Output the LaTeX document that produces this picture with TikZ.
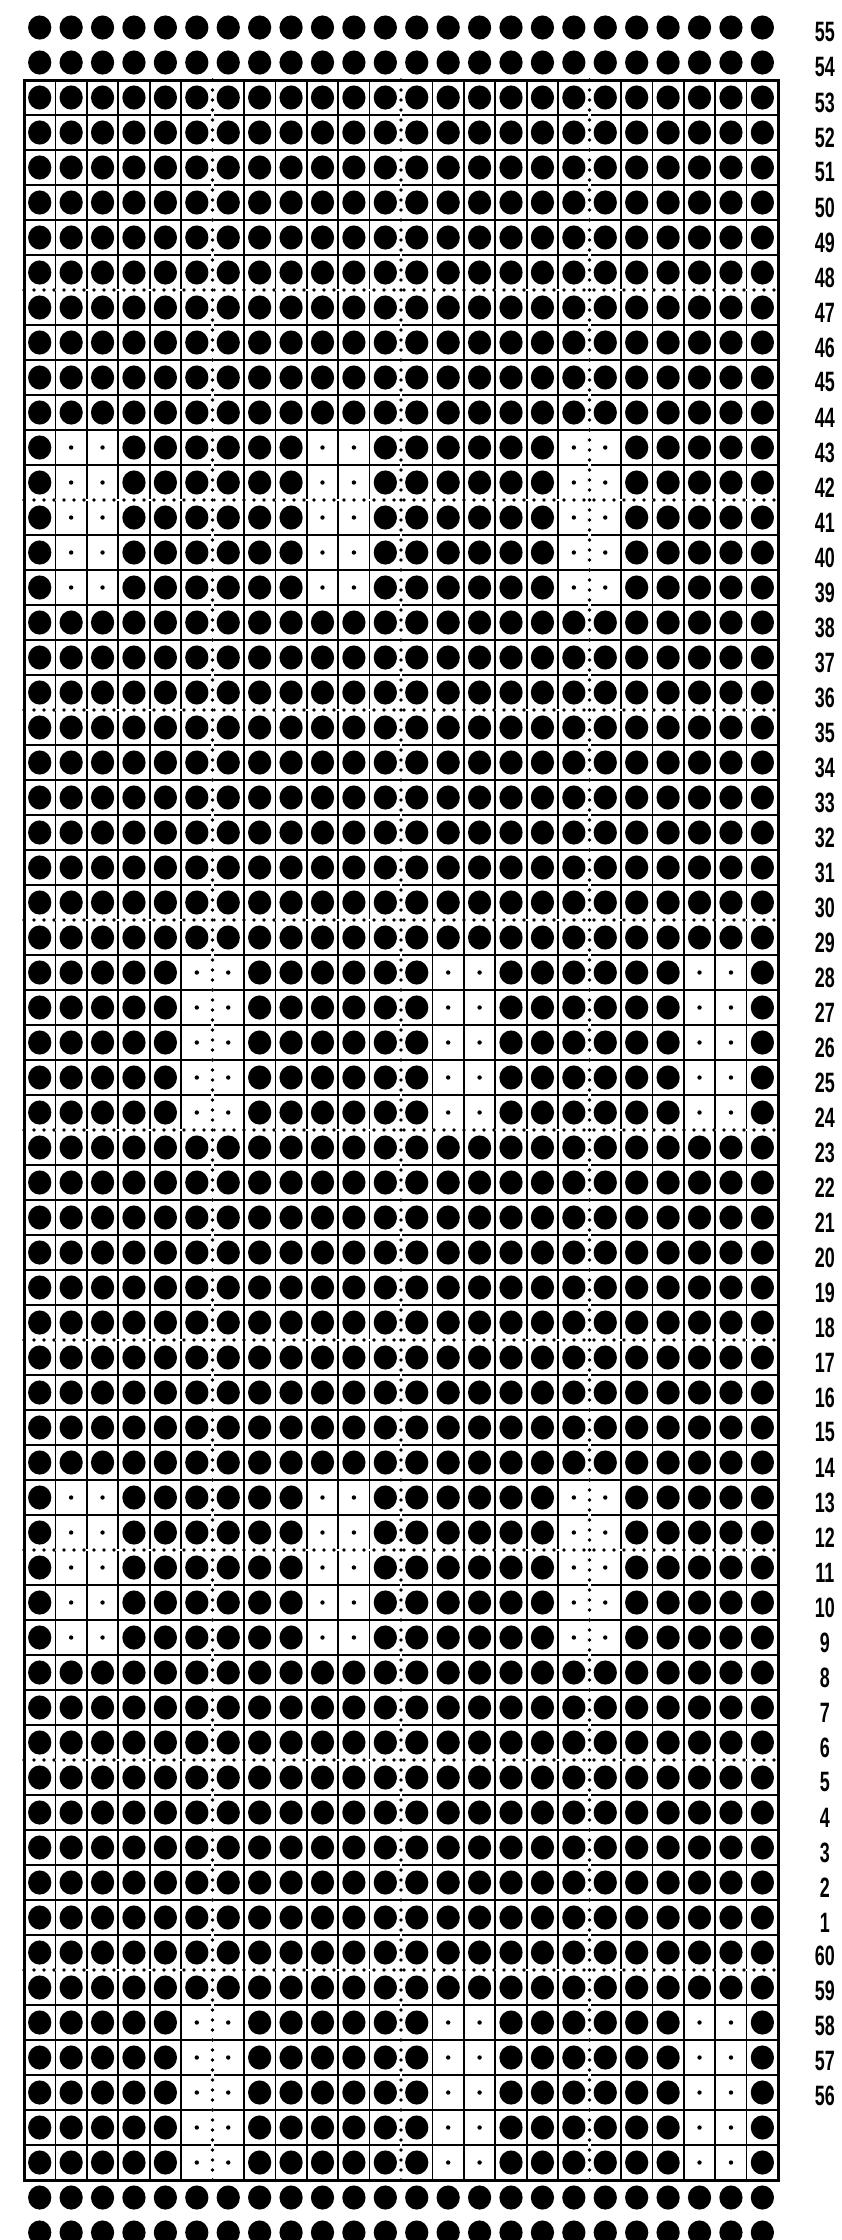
\documentclass[tikz,border=0pt]{standalone}
\usepackage{fontspec}
\newfontfamily\rownumfont{Liberation Sans Bold}[FakeStretch=0.64]
\tikzset{
  hole/.style={fill=black},
  cellline/.style={line width=0.5pt},
  frameline/.style={line width=0.9pt},
  sixline/.style={line width=1.1pt, line cap=round, dash pattern=on 0pt off 3pt},
  rownum/.style={font=\rownumfont\fontsize{8.4}{9}\selectfont, inner sep=0pt}
}

\begin{document}
\begin{tikzpicture}[x=0.3pt, y=-0.3pt]
            \useasboundingbox (0,0) rectangle (842,2240);
            \begin{scope}[shift={(24,80)}, xscale=31.42, yscale=35]
                % holes, with two rows above and below the card
                \foreach \ri in {-2,...,61}
                    \foreach \ci in {0,...,23}
                        \fill[hole] (\ci+0.5,\ri+0.5) ellipse [x radius=0.37, y radius=0.345];
                % blocks left unpunched
                \foreach \ri/\ci in {10/1,10/9,10/17,40/1,40/9,40/17,25/5,25/13,25/21,55/5,55/13,55/21} {
                    \fill[white] (\ci,\ri) rectangle (\ci+2,\ri+5);
                    \foreach \dr in {0,...,4}
                        \foreach \dc in {0,1}
                            \fill (\ci+\dc+0.5,\ri+\dr+0.5) ellipse [x radius=0.07, y radius=0.063];
                }
                \foreach \k in {1,...,59}
                    \draw[cellline] (0,\k) -- (24,\k);
                \foreach \k in {1,...,23}
                    \draw[cellline] (\k,0) -- (\k,60);
                \foreach \k in {6,12,...,54} {
                    \draw[white, line width=0.8pt] (0,\k) -- (24,\k);
                    \draw[sixline] (0,\k) -- (24,\k);
                }
                \foreach \k in {6,12,18} {
                    \draw[white, line width=0.8pt] (\k,0) -- (\k,60);
                    \draw[sixline] (\k,0) -- (\k,60);
                }
                \draw[frameline] (0,0) rectangle (24,60);
                % row numbers
                \foreach \ri in {-2,...,52} {
                    \pgfmathtruncatemacro\num{53-\ri}
                    \node[rownum] (row\num) at (25.49,\ri+0.64) {\num};
                }
                \foreach \ri in {53,...,57} {
                    \pgfmathtruncatemacro\num{113-\ri}
                    \node[rownum] (row\num) at (25.49,\ri+0.6) {\num};
                }
            \end{scope}
        \end{tikzpicture}
\end{document}
